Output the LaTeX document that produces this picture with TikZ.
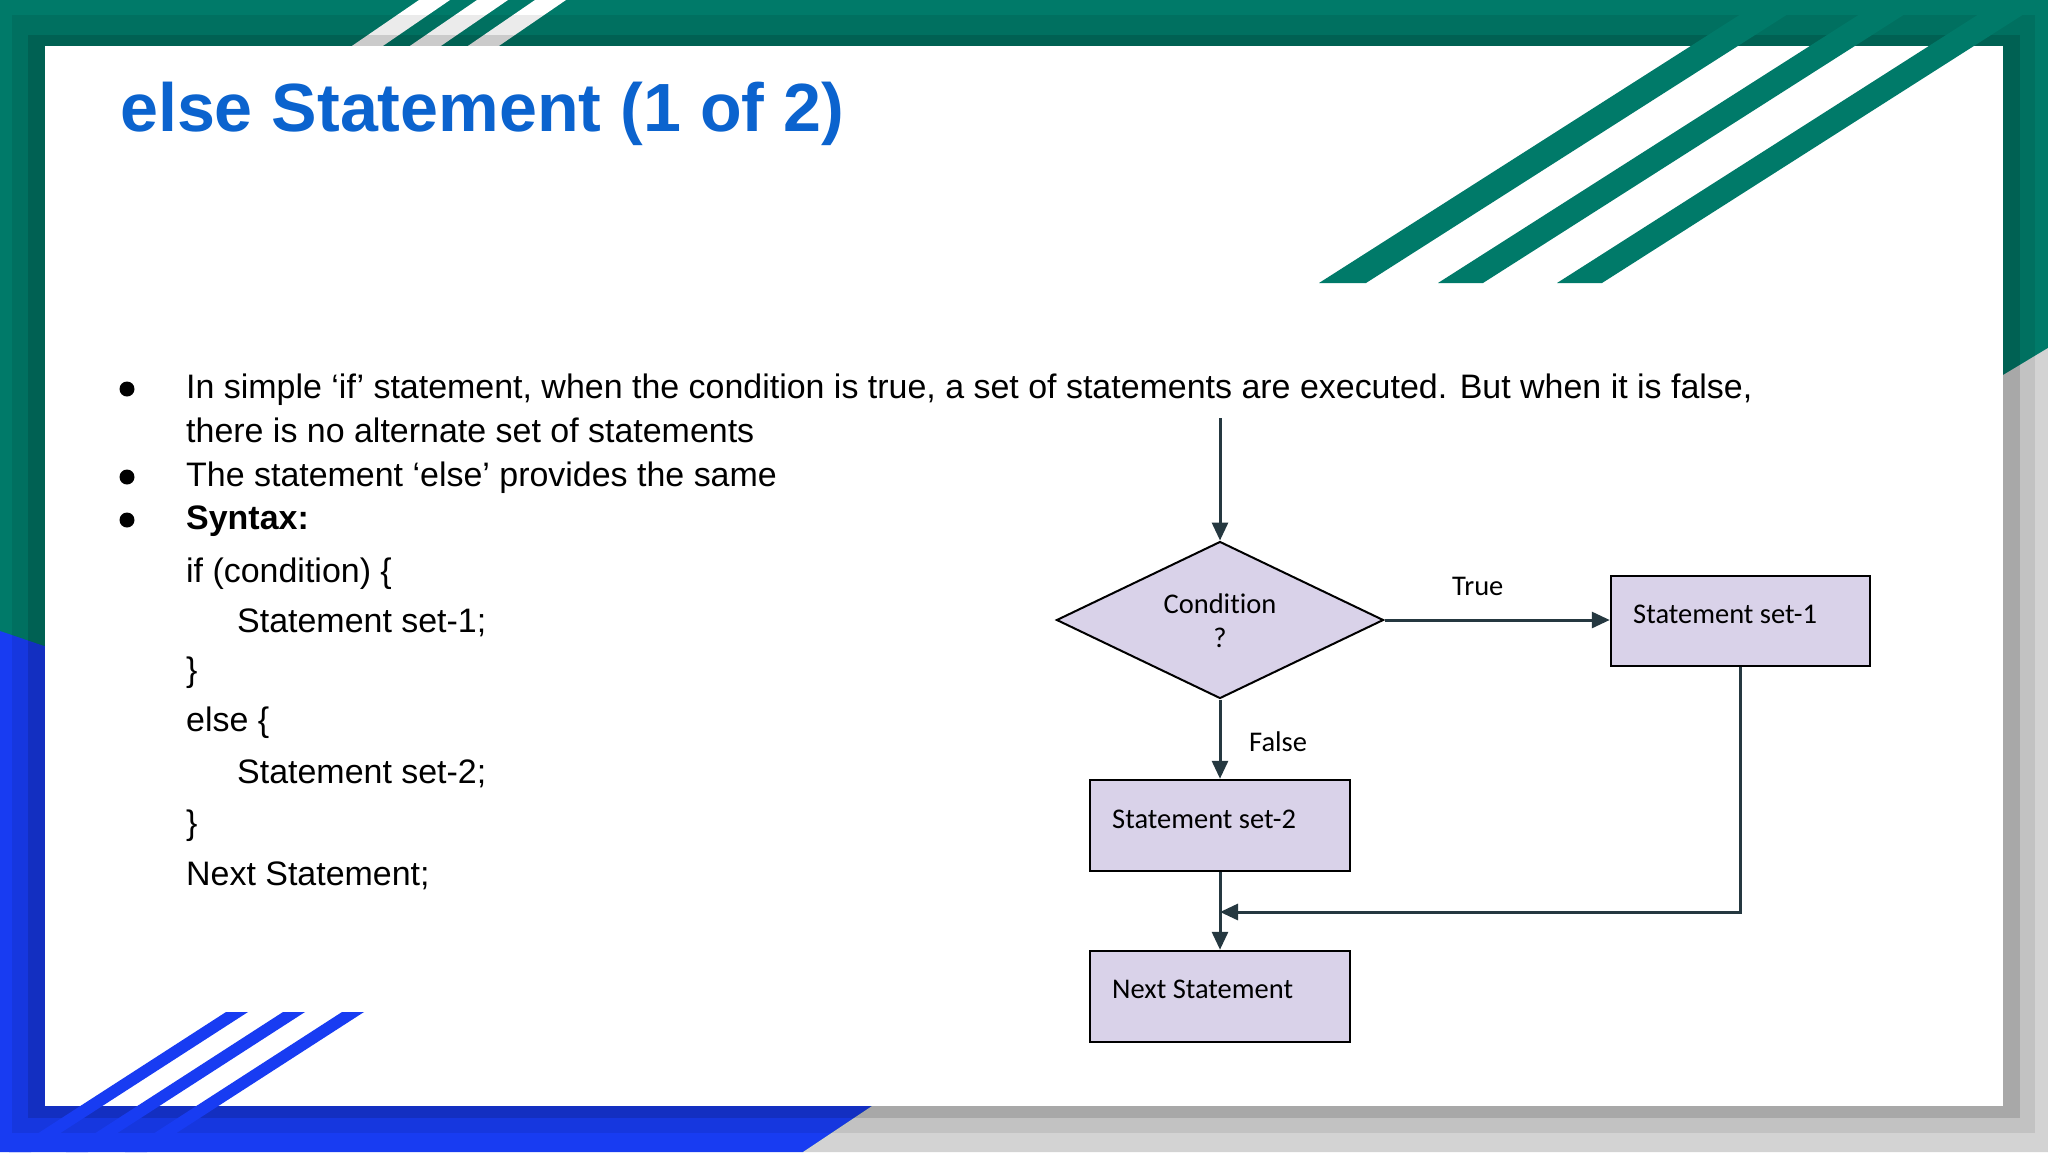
\documentclass[tikz,border=0pt]{standalone}
\usepackage{fontspec}
\setmainfont{Liberation Sans}
\newfontfamily\calib[Ligatures=NoCommon]{Carlito}
\usetikzlibrary{shapes.geometric,arrows.meta}
\definecolor{teal0}{HTML}{007A69}
\definecolor{blue0}{HTML}{183CF2}
\definecolor{grey0}{HTML}{D3D3D3}
\definecolor{titleblue}{HTML}{0B63CE}
\definecolor{lav}{HTML}{D9D2E9}
\definecolor{conncol}{HTML}{253840}
\begin{document}
\begin{tikzpicture}[x=1pt,y=-1pt,
  body/.style={anchor=base west, inner sep=0, font=\fontsize{33.95}{40}\selectfont},
  dot/.style={circle, fill=black, minimum size=15pt, inner sep=0},
  lbl/.style={anchor=base west, inner sep=0, font=\calib\fontsize{28.5}{34}\selectfont},
  box/.style={rectangle, draw=black, line width=2.5pt, fill=lav, minimum width=259pt, minimum height=90pt, inner sep=0},
  dia/.style={diamond, draw=black, line width=2pt, fill=lav, minimum width=327pt, minimum height=157pt, inner sep=0, aspect=2},
  conn/.style={draw=conncol, line width=3pt, -{Triangle[length=18pt,width=16pt]}}
]
\useasboundingbox (0,0) rectangle (2048,1152);
% frame
\fill[teal0] (0,0) rectangle (2048,1152);
\fill[blue0] (0,631) -- (50,648) -- (956,1050) -- (803,1152) -- (0,1152) -- cycle;
\fill[grey0] (2048,348) -- (1900,437) -- (956,1050) -- (803,1152) -- (2048,1152) -- cycle;
% white stripes top-left
\fill[white] (346,50) -- (377,50) -- (450,0) -- (419,0) -- cycle;
\fill[white] (404,50) -- (435,50) -- (508,0) -- (477,0) -- cycle;
\fill[white] (462,50) -- (493,50) -- (566,0) -- (535,0) -- cycle;
% shadow
\fill[black,opacity=0.08] (12,15) rectangle (2035,1133);
\fill[black,opacity=0.134] (28,35) rectangle (2020,1118);
% card
\fill[white] (45,46) rectangle (2003,1106);
% teal stripes
\fill[teal0] (1319,283) -- (1366,283) -- (1810,0) -- (1763,0) -- cycle;
\fill[teal0] (1438,283) -- (1483,283) -- (1927,0) -- (1882,0) -- cycle;
\fill[teal0] (1557,283) -- (1602,283) -- (2046,0) -- (2001,0) -- cycle;
% blue stripes
\fill[blue0] (226,1012) -- (248,1012) -- (31,1152) -- (9,1152) -- cycle;
\fill[blue0] (283,1012) -- (305,1012) -- (88,1152) -- (66,1152) -- cycle;
\fill[blue0] (342,1012) -- (364,1012) -- (147,1152) -- (125,1152) -- cycle;
% title
\node[anchor=base west, inner sep=0, text=titleblue, font=\fontsize{68.2}{80}\selectfont\bfseries] (title) at (120,131) {else Statement (1 of 2)};
% bullets and text
\node[dot] (b1) at (127,389) {};
\node[dot] (b2) at (127,477) {};
\node[dot] (b3) at (127,520) {};
\node[body] (l1) at (186,398) {In simple ‘if’ statement, when the condition is true, a set of statements are executed. But when it is false,};
\node[body] (l2) at (186,442) {there is no alternate set of statements};
\node[body] (l3) at (186,486) {The statement ‘else’ provides the same};
\node[body] (l4) at (186,529) {\bfseries Syntax:};
\node[body] (l5) at (186,582) {if (condition) \{};
\node[body] (l6) at (237,632) {Statement set-1;};
\node[body] (l7) at (186,681) {\}};
\node[body] (l8) at (186,731) {else \{};
\node[body] (l9) at (237,783) {Statement set-2;};
\node[body] (l10) at (186,834) {\}};
\node[body] (l11) at (186,885) {Next Statement;};
% flowchart
\node[dia] (cond) at (1220,620) {};
\node[box] (s1) at (1740.5,621) {};
\node[box, minimum width=260pt, minimum height=91pt] (s2) at (1220,825.5) {};
\node[box, minimum width=260pt, minimum height=91pt] (s3) at (1220,996.5) {};
\node[lbl, anchor=base] (c1) at (1220,613) {Condition};
\node[lbl, anchor=base] (c2) at (1220,647) {?};
\node[lbl] (t1) at (1633,623) {Statement set-1};
\node[lbl] (t2) at (1112,828) {Statement set-2};
\node[lbl] (t3) at (1112,998) {Next Statement};
\node[lbl] (tt) at (1452,595) {True};
\node[lbl] (ff) at (1249,751) {False};
\coordinate (start) at (1220,418);
\coordinate (corner) at (1740.5,912);
\coordinate (join) at (1220,912);
\draw[conn] (start) -- (cond.north);
\draw[conn] (cond.east) -- (cond.east -| s1.west);
\draw[conn] (cond.south) -- (s2.north);
\draw[conn] (s1.south) -- (corner) -- (join);
\draw[conn] (s2.south) -- (s3.north);
\end{tikzpicture}
\end{document}
